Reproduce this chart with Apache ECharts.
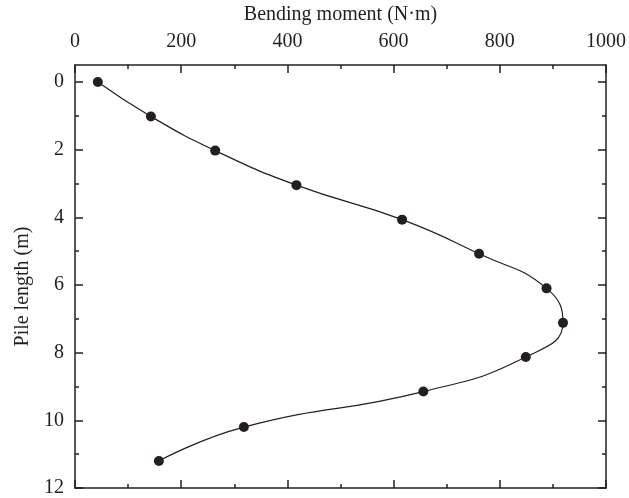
<!DOCTYPE html>
<html>
<head>
<meta charset="utf-8">
<script src="https://cdn.jsdelivr.net/npm/echarts@6/dist/echarts.min.js"></script>
<style>
  html, body { margin: 0; padding: 0; background: #fff; }
  #chart { width: 629px; height: 498px; }
</style>
</head>
<body>
<div id="chart"></div>
<script>
// Bending moment along the pile
const depth = [0, 1.02, 2.03, 3.05, 4.07, 5.08, 6.1, 7.12, 8.13, 9.15, 10.2, 11.2];
const moment = [43, 143, 264, 417, 616, 761, 888, 919, 849, 656, 318, 158];

const depthMajor = [0, 2, 4, 6, 8, 10, 12];
const depthMinor = [1, 3, 5, 7, 9, 11];

const ink = '#231f20';
const font = '"Liberation Serif", "Times New Roman", serif';
const fs = 20;

const chart = echarts.init(document.getElementById('chart'), null, { renderer: 'canvas' });

const lineStyle = { color: ink, width: 1.5 };

function depthAxis(pos, ticks, len, withLabels, withLine) {
  return {
    type: 'value', position: pos, inverse: true, min: -0.5, max: 12,
    axisLine: { show: withLine, onZero: false, lineStyle },
    axisTick: { show: true, inside: true, length: len, customValues: ticks, lineStyle },
    axisLabel: withLabels
      ? { show: true, customValues: depthMajor, margin: 11, color: ink, fontFamily: font, fontSize: fs }
      : { show: false },
    splitLine: { show: false },
    name: withLabels ? 'Pile length (m)' : '',
    nameLocation: 'middle', nameGap: 40,
    nameTextStyle: { color: ink, fontFamily: font, fontSize: fs, padding: [0, 20, 0, 0] }
  };
}

function momentAxis(pos, withLabels) {
  return {
    type: 'value', position: pos, min: 0, max: 1000, interval: 200,
    axisLine: { show: true, onZero: false, lineStyle },
    axisTick: { show: true, inside: true, length: 8, lineStyle },
    minorTick: { show: true, splitNumber: 2, length: 4, lineStyle: { color: ink, width: 1.5 } },
    axisLabel: withLabels
      ? { show: true, margin: 13, color: ink, fontFamily: font, fontSize: fs, formatter: v => String(v) }
      : { show: false },
    splitLine: { show: false },
    minorSplitLine: { show: false },
    name: withLabels ? 'Bending moment (N·m)' : '',
    nameLocation: 'middle', nameGap: 40,
    nameTextStyle: { color: ink, fontFamily: font, fontSize: fs }
  };
}

chart.setOption({
  animation: false,
  grid: { left: 75, right: 22, top: 63.5, bottom: 7 },
  xAxis: [momentAxis('top', true), momentAxis('bottom', false)],
  yAxis: [
    depthAxis('left', depthMajor, 8, true, true),
    depthAxis('right', depthMajor, 8, false, true),
    depthAxis('left', depthMinor, 4, false, false),
    depthAxis('right', depthMinor, 4, false, false)
  ],
  series: [{
    type: 'line',
    xAxisIndex: 0, yAxisIndex: 0,
    data: moment.map((m, i) => [m, depth[i]]),
    smooth: 0.5,
    symbol: 'circle', symbolSize: 10,
    itemStyle: { color: ink },
    lineStyle: { color: ink, width: 1.2 }
  }]
});
</script>
</body>
</html>
